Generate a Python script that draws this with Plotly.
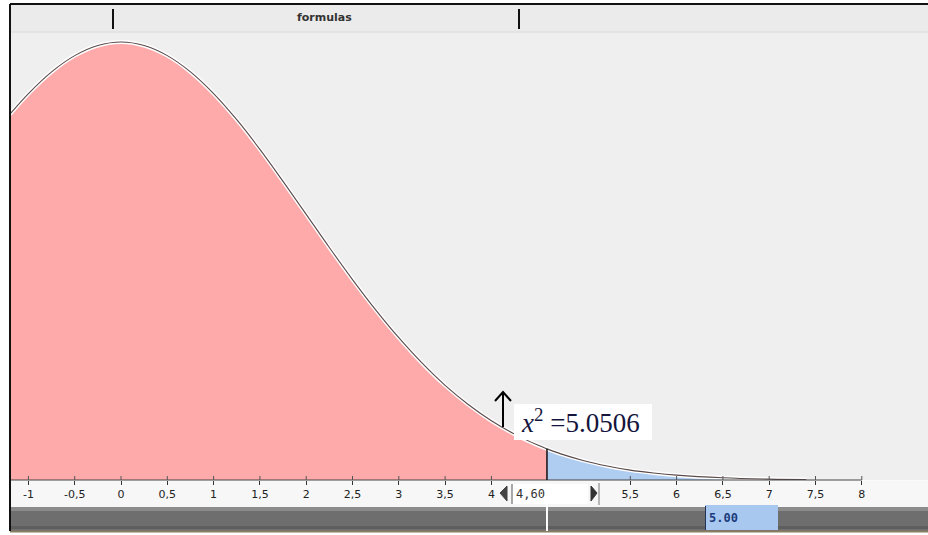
import plotly.graph_objects as go

# ---- data ----
x_vals = [-1.2, -1.0, -0.75, -0.5, -0.25, 0.0, 0.25, 0.5, 0.75, 1.0, 1.25, 1.5, 1.75,
          2.0, 2.25, 2.5, 2.75, 3.0, 3.25, 3.5, 3.75, 4.0, 4.25, 4.5, 4.6, 4.75,
          5.0, 5.25, 5.5, 5.75, 6.0, 6.5, 7.0, 7.4]
density = [0.1666, 0.1760, 0.1859, 0.1933, 0.1979, 0.1995, 0.1979, 0.1933, 0.1859,
           0.1760, 0.1641, 0.1506, 0.1360, 0.1210, 0.1059, 0.0913, 0.0775, 0.0648,
           0.0533, 0.0431, 0.0344, 0.0270, 0.0209, 0.0159, 0.0142, 0.0119, 0.0088,
           0.0064, 0.0045, 0.0032, 0.0022, 0.0010, 0.0004, 0.0002]
cut_value = 4.6
cut_label = "4,60"
stat_label = "<i>x</i><sup>2</sup> =5.0506"
slider_label = "5.00"
tick_vals = [-1, -0.5, 0, 0.5, 1, 1.5, 2, 2.5, 3, 3.5, 4, 5.5, 6, 6.5, 7, 7.5, 8]
tick_text = ["-1", "-0,5", "0", "0,5", "1", "1,5", "2", "2,5", "3", "3,5", "4",
             "5,5", "6", "6,5", "7", "7,5", "8"]
strip_title = "formulas"

W, H = 928, 535


def px(x):
    return x / W


def py(y):
    return 1 - y / H


ci = x_vals.index(cut_value)
red_x, red_y = x_vals[:ci + 1], density[:ci + 1]
blue_x, blue_y = x_vals[ci:], density[ci:]

fig = go.Figure()
fig.add_trace(go.Scatter(x=red_x, y=red_y, mode="lines", fill="tozeroy",
                         fillcolor="#ffaaaa", line=dict(width=0, shape="spline"),
                         hoverinfo="skip", showlegend=False))
fig.add_trace(go.Scatter(x=blue_x, y=blue_y, mode="lines", fill="tozeroy",
                         fillcolor="#afcdf0", line=dict(width=0, shape="spline"),
                         hoverinfo="skip", showlegend=False))
fig.add_trace(go.Scatter(x=x_vals, y=density, mode="lines",
                         line=dict(color="white", width=4, shape="spline"),
                         hoverinfo="skip", showlegend=False))
fig.add_trace(go.Scatter(x=x_vals, y=density, mode="lines",
                         line=dict(color="#5a4a4a", width=1.1, shape="spline"),
                         hoverinfo="skip", showlegend=False))

shapes = []
# plot background
shapes.append(dict(type="rect", xref="paper", yref="paper", x0=px(10), x1=px(928),
                   y0=py(480), y1=py(5), fillcolor="#efefef", line_width=0, layer="below"))
# top strip
shapes.append(dict(type="rect", xref="paper", yref="paper", x0=px(10), x1=px(928),
                   y0=py(32), y1=py(5), fillcolor="#ebebeb", line_width=0, layer="below"))
shapes.append(dict(type="line", xref="paper", yref="paper", x0=px(10), x1=px(928),
                   y0=py(32), y1=py(32), line=dict(color="#dadada", width=1), layer="below"))
for tx in (113, 519):
    shapes.append(dict(type="line", xref="paper", yref="paper", x0=px(tx), x1=px(tx),
                       y0=py(9), y1=py(29), line=dict(color="#111", width=2)))
# axis band
shapes.append(dict(type="rect", xref="paper", yref="paper", x0=px(10), x1=px(928),
                   y0=py(507), y1=py(480.5), fillcolor="#f7f7f7", line_width=0, layer="below"))
# axis line
shapes.append(dict(type="line", xref="x", yref="y", x0=x_vals[0], x1=tick_vals[-1],
                   y0=0, y1=0, line=dict(color="#444", width=1)))
# small tick marks above the axis line
for tv in tick_vals:
    shapes.append(dict(type="line", xref="x", yref="paper", x0=tv, x1=tv,
                       y0=py(480), y1=py(476), line=dict(color="#555", width=1)))
# divider at cut
shapes.append(dict(type="line", xref="x", yref="y", x0=cut_value, x1=cut_value,
                   y0=0, y1=density[ci], line=dict(color="#111", width=1.5)))
# slider bar
shapes.append(dict(type="rect", xref="paper", yref="paper", x0=px(10), x1=px(928),
                   y0=py(531), y1=py(507), fillcolor="#6e6e6e", line_width=0))
shapes.append(dict(type="rect", xref="paper", yref="paper", x0=px(10), x1=px(928),
                   y0=py(511), y1=py(507), fillcolor="#8c8c8c", line_width=0))
shapes.append(dict(type="rect", xref="paper", yref="paper", x0=px(10), x1=px(928),
                   y0=py(529), y1=py(526), fillcolor="#5e5e5e", line_width=0))
shapes.append(dict(type="line", xref="paper", yref="paper", x0=px(10), x1=px(928),
                   y0=py(531.5), y1=py(531.5), line=dict(color="#8a7d62", width=2)))
shapes.append(dict(type="line", xref="x", yref="paper", x0=cut_value, x1=cut_value,
                   y0=py(531), y1=py(483), line=dict(color="white", width=2)))
# slider value box
shapes.append(dict(type="rect", xref="paper", yref="paper", x0=px(705), x1=px(778),
                   y0=py(530), y1=py(505), fillcolor="#a9c8f0", line_width=0))
shapes.append(dict(type="line", xref="paper", yref="paper", x0=px(705.5), x1=px(705.5),
                   y0=py(530), y1=py(506), line=dict(color="#223355", width=1)))
# input box
shapes.append(dict(type="rect", xref="paper", yref="paper", x0=px(512), x1=px(588),
                   y0=py(504), y1=py(484), fillcolor="white", line_width=0))
shapes.append(dict(type="line", xref="paper", yref="paper", x0=px(512), x1=px(512),
                   y0=py(504), y1=py(484), line=dict(color="#555", width=1)))
shapes.append(dict(type="line", xref="paper", yref="paper", x0=px(599), x1=px(599),
                   y0=py(505), y1=py(483), line=dict(color="#777", width=1)))
shapes.append(dict(type="path", xref="paper", yref="paper",
                   path=f"M {px(507)},{py(486)} L {px(500)},{py(493)} L {px(507)},{py(501)} Z",
                   fillcolor="#444", line=dict(color="#444", width=1)))
shapes.append(dict(type="path", xref="paper", yref="paper",
                   path=f"M {px(591)},{py(486)} L {px(597)},{py(493)} L {px(591)},{py(501)} Z",
                   fillcolor="#333", line=dict(color="#333", width=1)))
# statistic label box
shapes.append(dict(type="rect", xref="paper", yref="paper", x0=px(514), x1=px(652),
                   y0=py(440), y1=py(404), fillcolor="white", line_width=0))
# arrow
shapes.append(dict(type="path", xref="paper", yref="paper",
                   path=f"M {px(503)},{py(427)} L {px(503)},{py(392)} M {px(495)},{py(401)} "
                        f"L {px(503)},{py(392)} L {px(511)},{py(401)}",
                   line=dict(color="#000", width=2)))
# frame
shapes.append(dict(type="line", xref="paper", yref="paper", x0=px(10), x1=px(928),
                   y0=py(4), y1=py(4), line=dict(color="#111", width=2)))
shapes.append(dict(type="line", xref="paper", yref="paper", x0=px(10), x1=px(10),
                   y0=py(531), y1=py(4), line=dict(color="#111", width=2)))

annotations = [
    dict(xref="paper", yref="paper", x=px(324), y=py(18), text=f"<b>{strip_title}</b>",
         showarrow=False, xanchor="center", yanchor="middle",
         font=dict(family="DejaVu Sans", size=11, color="#333")),
    dict(xref="paper", yref="paper", x=px(519), y=py(421), text=stat_label, showarrow=False,
         xanchor="left", yanchor="middle",
         font=dict(family="Liberation Serif", size=27, color="#14143c")),
    dict(xref="paper", yref="paper", x=px(514), y=py(494), text=cut_label, showarrow=False,
         xanchor="left", yanchor="middle",
         font=dict(family="DejaVu Sans Mono", size=12, color="#333")),
    dict(xref="paper", yref="paper", x=px(707), y=py(518), text=f"<b>{slider_label}</b>",
         showarrow=False, xanchor="left", yanchor="middle",
         font=dict(family="DejaVu Sans Mono", size=12, color="#1c3c7c")),
]

fig.update_layout(
    width=W, height=H, margin=dict(l=0, r=0, t=0, b=0),
    paper_bgcolor="white", plot_bgcolor="rgba(0,0,0,0)",
    xaxis=dict(range=[-1.307, 8.715], domain=[0, 1], anchor="free", position=55 / H,
               showgrid=False, zeroline=False, showline=False, ticks="outside",
               ticklen=4, tickcolor="#333", tickvals=tick_vals, ticktext=tick_text,
               tickfont=dict(family="DejaVu Sans", size=11, color="#222"), fixedrange=True),
    yaxis=dict(range=[-0.02505, 0.21863], domain=[0, 1], visible=False, fixedrange=True),
    shapes=shapes, annotations=annotations, showlegend=False,
)

fig.write_html("out.html", config={"displayModeBar": False},
               post_script="document.body.style.margin='0';document.body.style.overflow='hidden';")
